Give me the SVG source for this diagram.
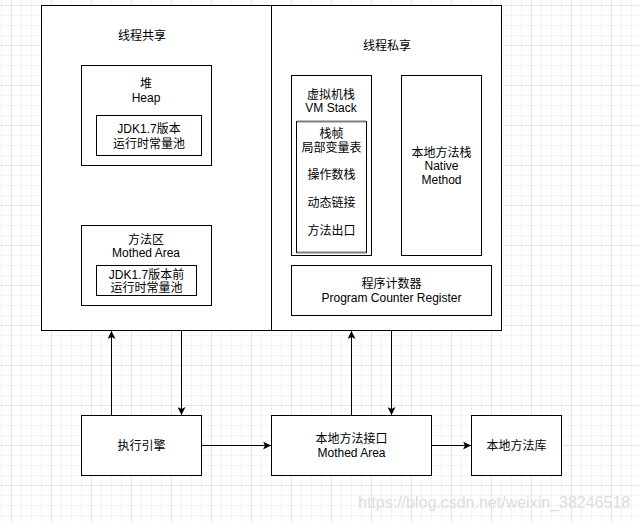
<svg xmlns="http://www.w3.org/2000/svg" width="639" height="522" viewBox="0 0 639 522">
<style>
.box{fill:#ffffff;stroke:#000000;stroke-width:1}
.t{font-family:"Liberation Sans","Noto Sans CJK SC",Arial,sans-serif;font-size:12px;fill:#000000;text-anchor:middle}
.c{fill:none;stroke:#000000;stroke-width:1}
</style>
<defs>
<pattern id="grid" patternUnits="userSpaceOnUse" x="11" y="5" width="40" height="40">
<path d="M10.5 0V40M20.5 0V40M30.5 0V40M0 10.5H40M0 20.5H40M0 30.5H40" stroke="#f3f3f3" stroke-width="1" fill="none"/>
<path d="M0.5 0V40M0 0.5H40" stroke="#e6e6e6" stroke-width="1" fill="none"/>
</pattern>
<marker id="arr" markerUnits="userSpaceOnUse" viewBox="0 0 8 8" markerWidth="8" markerHeight="8" refX="8" refY="4" orient="auto">
<path d="M0,0 L8,4 L0,8 L2,4 Z" fill="#000000"/>
</marker>
</defs>
<rect width="639" height="522" fill="#ffffff"/>
<rect width="639" height="522" fill="url(#grid)"/>

<g id="shared">
<rect class="box" x="41.5" y="5.5" width="230" height="325"/>
<text class="t" x="142" y="39.5">线程共享</text>
</g>
<g id="private">
<rect class="box" x="271.5" y="5.5" width="230" height="325"/>
<text class="t" x="387" y="49.5">线程私享</text>
</g>
<g id="heap">
<rect class="box" x="81.5" y="65.5" width="130" height="100"/>
<text class="t" x="146" y="88">堆</text>
<text class="t" x="146" y="102">Heap</text>
</g>
<g id="heap-pool">
<rect class="box" x="96.5" y="115.5" width="105" height="40"/>
<text class="t" x="149" y="132.5">JDK1.7版本</text>
<text class="t" x="149" y="147.5">运行时常量池</text>
</g>
<g id="method-area">
<rect class="box" x="81.5" y="225.5" width="130" height="80"/>
<text class="t" x="146" y="243.5">方法区</text>
<text class="t" x="146" y="257">Mothed Area</text>
</g>
<g id="method-pool">
<rect class="box" x="96.5" y="265.5" width="100" height="30"/>
<text class="t" x="146.5" y="278.5">JDK1.7版本前</text>
<text class="t" x="146.5" y="291.5">运行时常量池</text>
</g>
<g id="vm-stack">
<rect class="box" x="291.5" y="75.5" width="80" height="180"/>
<text class="t" x="331" y="98.5">虚拟机栈</text>
<text class="t" x="331" y="112">VM Stack</text>
</g>
<g id="frame">
<rect class="box" x="296.5" y="121.5" width="70" height="131"/>
<path d="M297 121.5H366M297 252.5H366" stroke="#808080" stroke-width="2" fill="none"/>
<text class="t" x="331.5" y="137.5">栈帧</text>
<text class="t" x="331.5" y="151.5">局部变量表</text>
<text class="t" x="331.5" y="178.5">操作数栈</text>
<text class="t" x="331.5" y="206.5">动态链接</text>
<text class="t" x="331.5" y="234.5">方法出口</text>
</g>
<g id="native-stack">
<rect class="box" x="401.5" y="75.5" width="80" height="180"/>
<text class="t" x="441.5" y="156.5">本地方法栈</text>
<text class="t" x="441.5" y="170">Native</text>
<text class="t" x="441.5" y="184">Method</text>
</g>
<g id="pc">
<rect class="box" x="291.5" y="265.5" width="200" height="50"/>
<text class="t" x="391.5" y="287.5">程序计数器</text>
<text class="t" x="391.5" y="301.5">Program Counter Register</text>
</g>
<g id="engine">
<rect class="box" x="81.5" y="415.5" width="120" height="60"/>
<text class="t" x="141.5" y="449.5">执行引擎</text>
</g>
<g id="jni">
<rect class="box" x="271.5" y="415.5" width="160" height="60"/>
<text class="t" x="351.5" y="443">本地方法接口</text>
<text class="t" x="351.5" y="457">Mothed Area</text>
</g>
<g id="native-lib">
<rect class="box" x="471.5" y="415.5" width="90" height="60"/>
<text class="t" x="516.5" y="449.5">本地方法库</text>
</g>

<g id="connectors">
<line class="c" x1="111.5" y1="415" x2="111.5" y2="331" marker-end="url(#arr)"/>
<line class="c" x1="181.5" y1="331" x2="181.5" y2="415" marker-end="url(#arr)"/>
<line class="c" x1="351.5" y1="415" x2="351.5" y2="331" marker-end="url(#arr)"/>
<line class="c" x1="391.5" y1="331" x2="391.5" y2="415" marker-end="url(#arr)"/>
<line class="c" x1="202" y1="445.5" x2="271" y2="445.5" marker-end="url(#arr)"/>
<line class="c" x1="432" y1="445.5" x2="471" y2="445.5" marker-end="url(#arr)"/>
</g>

<text x="358" y="508" font-family="'Liberation Sans',Arial,sans-serif" font-size="16" fill="#dddddd">https://blog.csdn.net/weixin_38246518</text>
</svg>
